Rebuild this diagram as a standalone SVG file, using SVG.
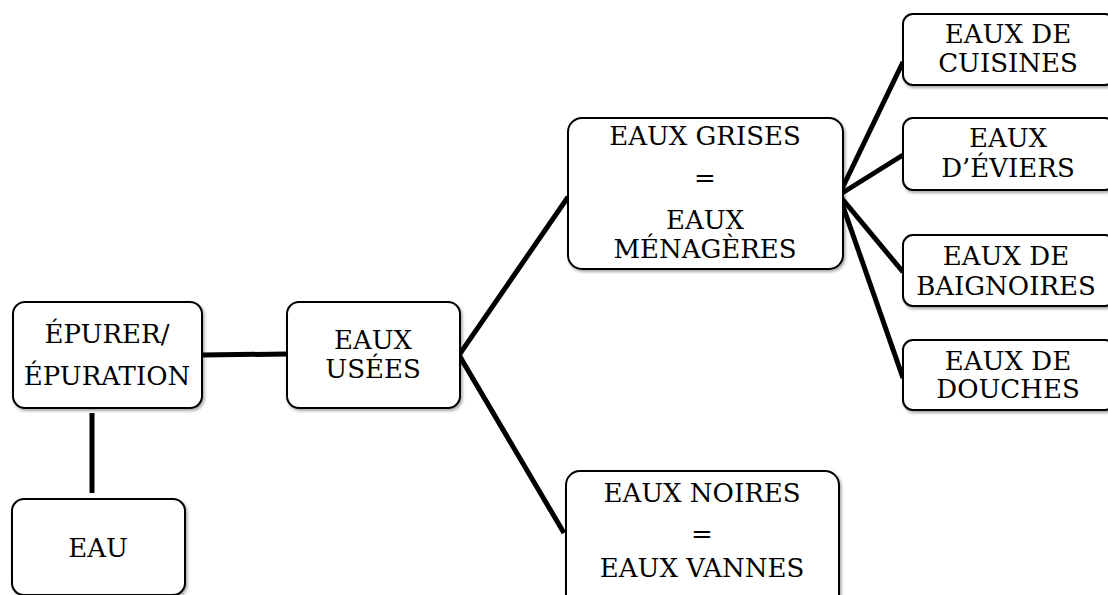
<svg xmlns="http://www.w3.org/2000/svg" width="1108" height="595" viewBox="0 0 1108 595">
<style>
.box{fill:#fff;stroke:#000;stroke-width:2;filter:url(#sh)}
.t{font-family:'DejaVu Serif',serif;font-size:26px;fill:#000;text-anchor:middle}
.c{stroke:#000;stroke-width:5;fill:none;stroke-linecap:butt}
</style>
<defs>
<filter id="sh" x="-10%" y="-10%" width="130%" height="130%">
<feDropShadow dx="1.5" dy="2" stdDeviation="1.5" flood-color="#000" flood-opacity="0.35"/>
</filter>
</defs>
<rect width="1108" height="595" fill="#fff"/>
<g id="connectors">
<line class="c" x1="202" y1="355" x2="287" y2="354"/>
<line class="c" x1="92" y1="413" x2="92" y2="493"/>
<polyline class="c" points="568,197 459,355 564,533"/>
<line class="c" x1="839" y1="195" x2="903" y2="62"/>
<line class="c" x1="839" y1="195" x2="903" y2="155"/>
<line class="c" x1="839" y1="195" x2="903" y2="272"/>
<line class="c" x1="839" y1="195" x2="903" y2="378"/>
</g>
<g id="epurer">
<rect class="box" x="13" y="302" width="189" height="106" rx="12"/>
<text class="t" x="107" y="343">ÉPURER/</text>
<text class="t" x="107" y="385">ÉPURATION</text>
</g>
<g id="eau">
<rect class="box" x="12" y="499" width="173" height="96" rx="12"/>
<text class="t" x="98" y="557">EAU</text>
</g>
<g id="usees">
<rect class="box" x="287" y="302" width="173" height="106" rx="12"/>
<text class="t" x="373" y="349">EAUX</text>
<text class="t" x="373" y="378">USÉES</text>
</g>
<g id="grises">
<rect class="box" x="568" y="118" width="275" height="151" rx="14"/>
<text class="t" x="705" y="145">EAUX GRISES</text>
<text class="t" x="705" y="187">=</text>
<text class="t" x="705" y="229">EAUX</text>
<text class="t" x="705" y="258">MÉNAGÈRES</text>
</g>
<g id="noires">
<rect class="box" x="566" y="471" width="273" height="140" rx="14"/>
<text class="t" x="702" y="502">EAUX NOIRES</text>
<text class="t" x="702" y="543">=</text>
<text class="t" x="702" y="577">EAUX VANNES</text>
</g>
<g id="cuisines">
<rect class="box" x="903" y="14" width="212" height="71" rx="10"/>
<text class="t" x="1008" y="43">EAUX DE</text>
<text class="t" x="1008" y="72">CUISINES</text>
</g>
<g id="eviers">
<rect class="box" x="903" y="118" width="212" height="72" rx="10"/>
<text class="t" x="1008" y="147">EAUX</text>
<text class="t" x="1008" y="177">D’ÉVIERS</text>
</g>
<g id="baignoires">
<rect class="box" x="903" y="235" width="212" height="71" rx="10"/>
<text class="t" x="1006" y="265">EAUX DE</text>
<text class="t" x="1006" y="295">BAIGNOIRES</text>
</g>
<g id="douches">
<rect class="box" x="903" y="340" width="212" height="70" rx="10"/>
<text class="t" x="1008" y="370">EAUX DE</text>
<text class="t" x="1008" y="398">DOUCHES</text>
</g>
</svg>
